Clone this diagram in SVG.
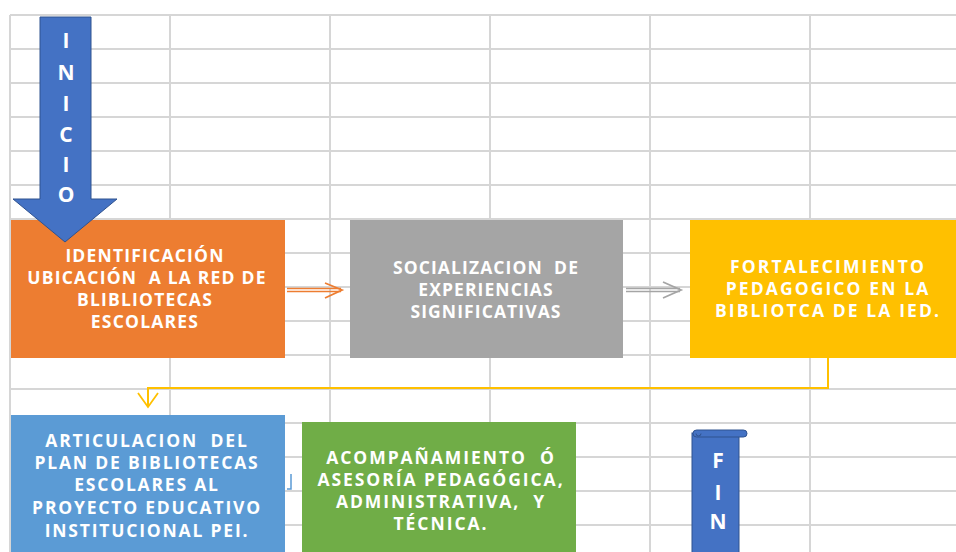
<svg xmlns="http://www.w3.org/2000/svg" width="956" height="552" viewBox="0 0 956 552">
<style>
.grid{stroke:#d6d6d6;stroke-width:2;fill:none}
.t{font-family:"Open Sans",Lato,"Liberation Sans",sans-serif;font-weight:bold;font-size:17.5px;letter-spacing:1.7px;fill:#ffffff;text-anchor:middle}
.big{font-family:"Open Sans",Lato,"Liberation Sans",sans-serif;font-weight:bold;font-size:21px;fill:#ffffff;text-anchor:middle}
.shape{fill:#4472c4;stroke:#2f528f;stroke-width:1}
</style>
<rect x="0" y="0" width="956" height="552" fill="#ffffff"/>
<g id="grid" class="grid">
<path d="M10,15H956M10,49H956M10,83H956M10,117H956M10,151H956M10,185H956M10,219H956M10,253H956M10,287H956M10,321H956M10,355H956M10,389H956M10,423H956M10,457H956M10,491H956M10,525H956"/>
<path d="M10,15V552M170,15V552M330,15V552M490,15V552M650,15V552M810,15V552"/>
</g>
<g id="connectors" fill="none">
<g stroke="#ed7d31" stroke-width="1.3">
<path d="M287,288.5H341M287,291.5H341"/>
<path d="M325,283L342,290L325,298" stroke-width="1.8"/>
</g>
<g stroke="#a5a5a5" stroke-width="1.3">
<path d="M626,288.5H680M626,291.5H680"/>
<path d="M663,282L681,290L663,298" stroke-width="1.8"/>
</g>
<g stroke="#ffc000" stroke-width="2">
<path d="M828,358V388H148V406"/>
<path d="M138,393L148,407L158,393" stroke-width="1.8"/>
</g>
<path d="M291,474V489H287" stroke="#5b9bd5" stroke-width="1.5"/>
</g>
<g id="n1">
<rect x="11" y="220" width="274" height="138" fill="#ed7d31"/>
<text class="t" style="letter-spacing:1.2px" xml:space="preserve"><tspan x="145" y="262">IDENTIFICACIÓN</tspan><tspan x="147" y="284">UBICACIÓN  A LA RED DE</tspan><tspan x="145" y="306">BLIBLIOTECAS</tspan><tspan x="145" y="328">ESCOLARES</tspan></text>
</g>
<g id="inicio">
<path class="shape" d="M40,17H91V199H117L65,242L13,199H40Z"/>
<text class="big"><tspan x="66" y="48">I</tspan><tspan x="66" y="80">N</tspan><tspan x="66" y="111">I</tspan><tspan x="66" y="142">C</tspan><tspan x="66" y="172">I</tspan><tspan x="66" y="202">O</tspan></text>
</g>
<g id="n2">
<rect x="350" y="220" width="273" height="138" fill="#a5a5a5"/>
<text class="t" style="letter-spacing:1.1px" xml:space="preserve"><tspan x="486" y="274">SOCIALIZACION  DE</tspan><tspan x="486" y="296">EXPERIENCIAS</tspan><tspan x="486" y="318">SIGNIFICATIVAS</tspan></text>
</g>
<g id="n3">
<rect x="690" y="220" width="266" height="138" fill="#ffc000"/>
<text class="t" style="letter-spacing:2.1px"><tspan x="828" y="273">FORTALECIMIENTO</tspan><tspan x="828" y="295">PEDAGOGICO EN LA</tspan><tspan x="828" y="317">BIBLIOTCA DE LA IED.</tspan></text>
</g>
<g id="n4">
<rect x="11" y="415" width="274" height="137" fill="#5b9bd5"/>
<text class="t" style="letter-spacing:1.8px" xml:space="preserve"><tspan x="147" y="447">ARTICULACION  DEL</tspan><tspan x="147" y="469">PLAN DE BIBLIOTECAS</tspan><tspan x="147" y="491">ESCOLARES AL</tspan><tspan x="147" y="514">PROYECTO EDUCATIVO</tspan><tspan x="147" y="537">INSTITUCIONAL PEI.</tspan></text>
</g>
<g id="n5">
<rect x="302" y="422" width="274" height="130" fill="#70ad47"/>
<text class="t" style="letter-spacing:1.95px" xml:space="preserve"><tspan x="441" y="464">ACOMPAÑAMIENTO  Ó</tspan><tspan x="441" y="486">ASESORÍA PEDAGÓGICA,</tspan><tspan x="441" y="508">ADMINISTRATIVA,  Y</tspan><tspan x="441" y="530">TÉCNICA.</tspan></text>
</g>
<g id="fin">
<rect class="shape" x="692" y="433" width="47" height="125"/>
<rect class="shape" x="693" y="430" width="54" height="7" rx="3.5"/>
<path d="M696,433.5a2.5,2.5 0 1 0 5,0" fill="none" stroke="#2f528f" stroke-width="1"/>
<text class="big"><tspan x="718" y="468">F</tspan><tspan x="718" y="500">I</tspan><tspan x="718" y="529">N</tspan></text>
</g>
</svg>
